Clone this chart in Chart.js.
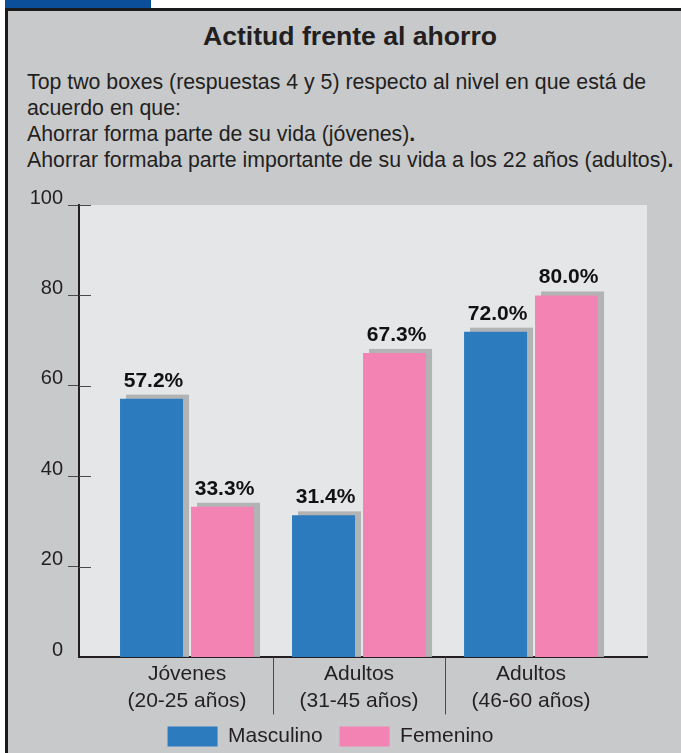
<!DOCTYPE html>
<html>
<head>
<meta charset="utf-8">
<script src="https://cdn.jsdelivr.net/npm/chart.js@4.4.1/dist/chart.umd.min.js"></script>
<style>
  html, body { margin: 0; padding: 0; }
  body { width: 681px; height: 753px; overflow: hidden; background: #fff; position: relative;
         font-family: "Liberation Sans", Arial, Helvetica, sans-serif; color: #231f20; }
  .tab { position: absolute; left: 5px; top: 0; width: 146px; height: 8px; background: #0b4f9b; }
  .frame { position: absolute; left: 5px; top: 8px; right: 0; bottom: 0; background: #c8c9cb;
           border-left: 3px solid #1b1b1b; border-top: 3px solid #1b1b1b; }
  .title { position: absolute; left: 0; width: 700px; top: 21px; text-align: center;
           font-weight: bold; font-size: 26.6px; line-height: 30px; }
  .intro { position: absolute; left: 27px; top: 69px; font-size: 21.3px; line-height: 26px; white-space: nowrap; }
  .wrap { position: absolute; left: 8px; top: 180px; width: 673px; height: 586px; }
</style>
</head>
<body>
<div class="tab"></div>
<div class="frame"></div>
<div class="title">Actitud frente al ahorro</div>
<div class="intro">
  Top two boxes (respuestas 4 y 5) respecto al nivel en que está de<br>
  acuerdo en que:<br>
  Ahorrar forma parte de su vida (jóvenes)<b>.</b><br>
  Ahorrar formaba parte importante de su vida a los 22 años (adultos)<b>.</b>
</div>
<div class="wrap"><canvas id="chart"></canvas></div>
<script>
// data
const categories = [['Jóvenes', '(20-25 años)'], ['Adultos', '(31-45 años)'], ['Adultos', '(46-60 años)']];
const masculino = [57.2, 31.4, 72.0];
const femenino = [33.3, 67.3, 80.0];
const yTicks = [0, 20, 40, 60, 80, 100];

const INK = '#231f20';
Chart.defaults.font.family = '"Liberation Sans", Arial, Helvetica, sans-serif';
Chart.defaults.color = INK;

// light panel behind the bars
const plotBackground = {
  id: 'plotBackground',
  beforeDraw(chart) {
    const {ctx, chartArea: a} = chart;
    ctx.save();
    ctx.fillStyle = '#e5e6e8';
    ctx.fillRect(a.left, a.top, a.right - a.left, a.bottom - a.top);
    ctx.restore();
  }
};

// gray drop shadow up and right of every bar
const barShadows = {
  id: 'barShadows',
  beforeDatasetsDraw(chart) {
    const {ctx} = chart;
    ctx.save();
    ctx.fillStyle = '#b2b3b5';
    chart.data.datasets.forEach((ds, i) => {
      chart.getDatasetMeta(i).data.forEach(bar => {
        const {x, y, base, width} = bar.getProps(['x', 'y', 'base', 'width'], true);
        ctx.fillRect(x - width / 2 + 6, y - 4, width, base - y + 4);
      });
    });
    ctx.restore();
  }
};

// tick stubs inside the plot and the dividers between the groups
const axisMarks = {
  id: 'axisMarks',
  beforeDatasetsDraw(chart) {
    const {ctx, chartArea: a, scales: {x, y}} = chart;
    ctx.save();
    ctx.strokeStyle = '#4a4a4a';
    ctx.lineWidth = 1;
    ctx.beginPath();
    y.ticks.forEach(t => {
      if (t.value === 0) return;
      const py = Math.round(y.getPixelForValue(t.value)) + 0.5;
      ctx.moveTo(a.left, py);
      ctx.lineTo(a.left + 12, py);
    });
    for (let i = 0.5; i < categories.length - 1; i++) {
      const px = Math.round(x.getPixelForValue(i)) + 0.5;
      ctx.moveTo(px, a.bottom);
      ctx.lineTo(px, a.bottom + 57);
    }
    ctx.stroke();
    ctx.restore();
  }
};

// legend sits a little closer to the axis labels than chart.js would put it
const legendNudge = {
  id: 'legendNudge',
  afterLayout(chart) {
    chart.legend.top -= 9;
    chart.legend.bottom -= 9;
  }
};

const valueLabels = {
  id: 'valueLabels',
  afterDatasetsDraw(chart) {
    const {ctx} = chart;
    ctx.save();
    ctx.font = 'bold 21px "Liberation Sans", Arial, sans-serif';
    ctx.fillStyle = '#111';
    ctx.textAlign = 'center';
    ctx.textBaseline = 'alphabetic';
    chart.data.datasets.forEach((ds, i) => {
      chart.getDatasetMeta(i).data.forEach((bar, j) => {
        ctx.fillText(ds.data[j].y.toFixed(1) + '%', bar.x + 2, bar.y - 12);
      });
    });
    ctx.restore();
  }
};

new Chart(document.getElementById('chart'), {
  type: 'bar',
  data: {
    datasets: [
      { label: 'Masculino', data: masculino.map((v, i) => ({x: i, y: v})), backgroundColor: '#2c7bbf' },
      { label: 'Femenino', data: femenino.map((v, i) => ({x: i, y: v})), backgroundColor: '#f283b2' }
    ]
  },
  options: {
    responsive: true,
    maintainAspectRatio: false,
    animation: false,
    datasets: { bar: { categoryPercentage: 0.8256, barPercentage: 0.8873 } },
    layout: { padding: { left: 6, right: 34, top: 25, bottom: 0 } },
    plugins: {
      legend: {
        position: 'bottom',
        labels: { boxWidth: 50, boxHeight: 20, padding: 17, font: { size: 21 }, color: INK }
      },
      tooltip: { enabled: false }
    },
    scales: {
      x: {
        type: 'linear',
        offset: false,
        min: -0.628,
        max: 2.674,
        afterBuildTicks: s => { s.ticks = categories.map((c, i) => ({ value: i })); },
        grid: { display: false, drawTicks: false },
        border: { color: INK, width: 2 },
        ticks: {
          autoSkip: false, maxRotation: 0, padding: 3,
          font: { size: 21, lineHeight: 1.3 }, color: INK,
          callback: v => categories[v]
        }
      },
      y: {
        min: 0,
        max: 100,
        afterBuildTicks: s => { s.ticks = yTicks.map(v => ({ value: v })); },
        afterFit: s => { s.width = 65; },
        grid: {
          drawOnChartArea: false, tickLength: 11,
          color: c => (c.tick && c.tick.value === 0) ? 'rgba(0,0,0,0)' : '#4a4a4a'
        },
        border: { color: INK, width: 2 },
        ticks: { padding: 5, labelOffset: -7, font: { size: 20 }, color: INK }
      }
    }
  },
  plugins: [plotBackground, barShadows, axisMarks, legendNudge, valueLabels]
});
</script>
</body>
</html>
